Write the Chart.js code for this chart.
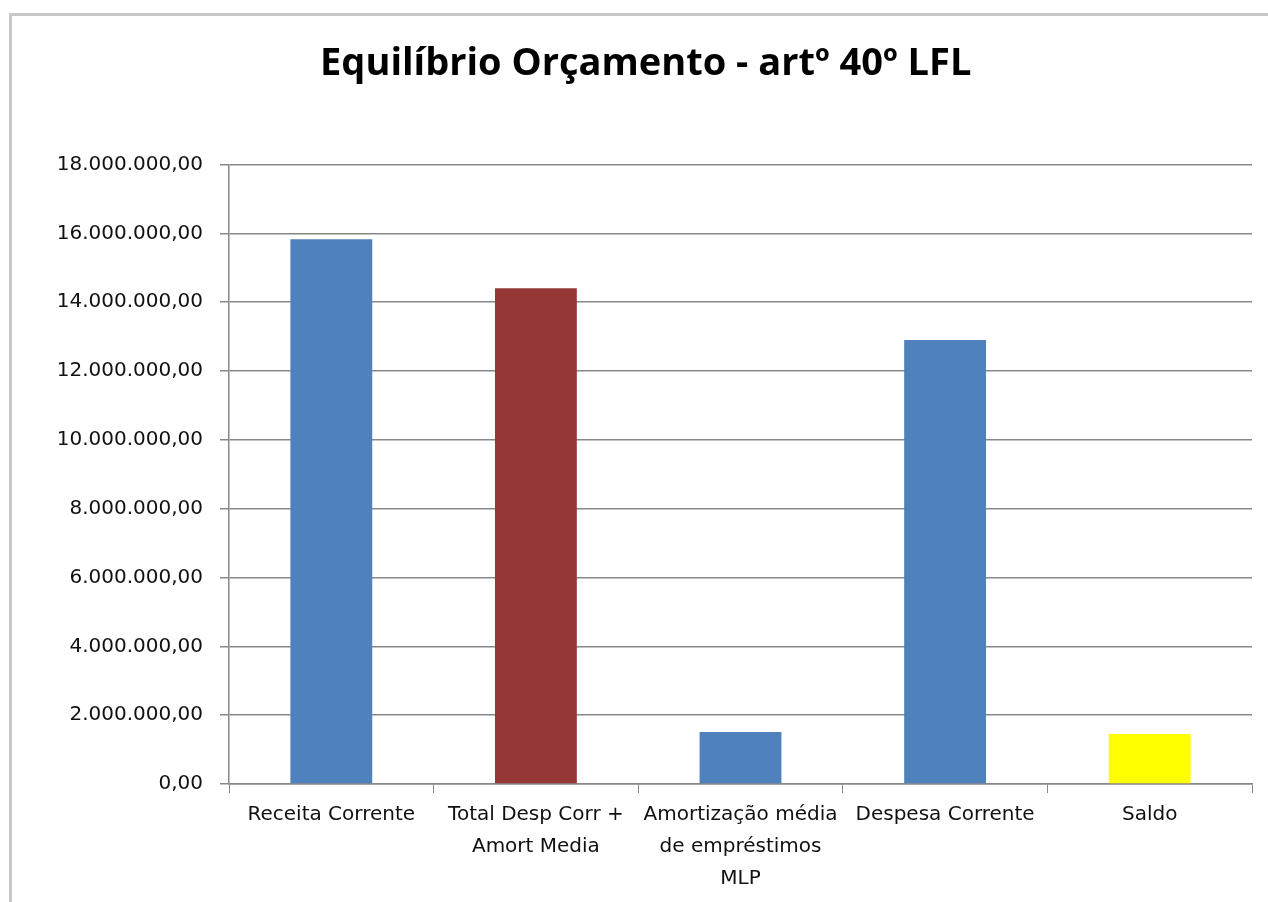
<!DOCTYPE html>
<html>
<head>
<meta charset="utf-8">
<script src="https://cdn.jsdelivr.net/npm/chart.js@4/dist/chart.umd.min.js"></script>
<style>
    body { margin: 0; background: #fff; }
    #frame { position: absolute; left: 9px; top: 13px; width: 1400px; height: 1000px;
        border-left: 3px solid #c8c8c8; border-top: 3px solid #c8c8c8; }
    #myChart { position: absolute; left: 0; top: 0; }
</style>
</head>
<body>
<div id="frame"></div>
<canvas id="myChart" width="1268" height="902"></canvas>
<script>
let categories = [
    ["Receita Corrente"],
    ["Total Desp Corr +", "Amort Media"],
    ["Amortização média", "de empréstimos", "MLP"],
    ["Despesa Corrente"],
    ["Saldo"]
]
let values = [15830000, 14410000, 1510000, 12900000, 1450000]
let barColors = ["#4f81bd", "#953735", "#4f81bd", "#4f81bd", "#ffff00"]
let yTicks = [0, 2000000, 4000000, 6000000, 8000000, 10000000, 12000000, 14000000, 16000000, 18000000]

function FormatNumber(v){
    let s = Math.round(v).toString()
    let out = ""
    for (let i = 0; i < s.length; i++) {
        if(i > 0 && (s.length - i) % 3 === 0)
            out += "."
        out += s[i]
    }
    return out + ",00"
}

let chart = new Chart("myChart", {
    type: "bar",
    data: {
        labels: categories,
        datasets: [{
            backgroundColor: barColors,
            data: values,
            categoryPercentage: 0.8,
            barPercentage: 0.5
        }]
    },
    options: {
        responsive: false,
        animation: false,
        layout: { padding: { left: 0, right: 16, top: 0, bottom: 0 } },
        plugins: {
            legend: { display: false },
            tooltip: { enabled: false },
            title: {
                display: true,
                // leading spaces push the centred title right, as in the original
                text: "\u00a0\u00a0\u00a0\u00a0Equilíbrio Orçamento - artº 40º LFL",
                color: "#000",
                font: { family: "'Open Sans', sans-serif", size: 38, weight: "bold" },
                padding: { top: 41, bottom: 78 }
            }
        },
        scales: {
            x: {
                grid: { drawOnChartArea: false, drawTicks: true, tickLength: 9, color: "#888", offset: true },
                border: { color: "#888", width: 1.5 },
                ticks: {
                    color: "#111",
                    maxRotation: 0,
                    autoSkip: false,
                    padding: 6,
                    font: { family: "'DejaVu Sans'", size: 20, lineHeight: 1.6 }
                },
                afterFit: function(scale){ scale.height = 118 }
            },
            y: {
                min: 0,
                max: 18000000,
                afterBuildTicks: function(scale){ scale.ticks = yTicks.map(v => ({ value: v })) },
                grid: { color: "#888", tickLength: 9, lineWidth: 1.5 },
                border: { color: "#888", width: 1.5 },
                ticks: {
                    color: "#111",
                    padding: 17,
                    font: { family: "'DejaVu Sans'", size: 20 },
                    callback: function(v){ return FormatNumber(v) }
                },
                afterFit: function(scale){ scale.width = 229 }
            }
        }
    }
})
</script>
</body>
</html>
